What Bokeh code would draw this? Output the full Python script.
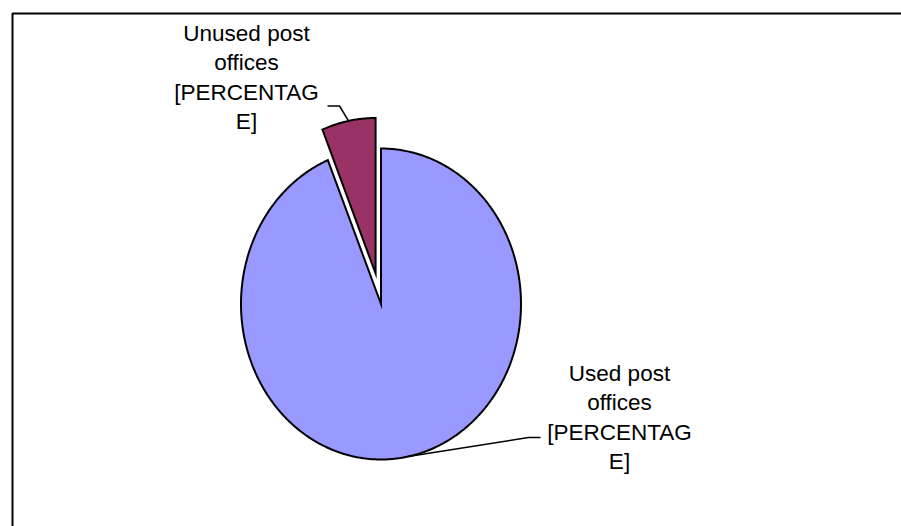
import numpy as np
from bokeh.plotting import figure
from bokeh.models import Range1d
from bokeh.core.properties import value
from bokeh.embed import file_html
from bokeh.resources import INLINE

# ---- data ----
categories = ["Used post offices", "Unused post offices"]
values = [93.8, 6.2]
label_lines = [
    ["Used post", "offices", "[PERCENTAG", "E]"],
    ["Unused post", "offices", "[PERCENTAG", "E]"],
]
colors = ["#9999FF", "#993366"]
explode = [0.0, 0.2]

# ---- layout (image pixel coordinates) ----
W, H = 901, 526
X0, Y0 = 0, 0
cx, cy = 380.5, 303.5
rx, ry = 140.0, 155.5
label_pos = [(619.0, 373.0), (246.0, 33.0)]   # center x, first line middle
line_step = 29.3
font_px = "22.5px"
elbows = [((540.0, 437.0), (528.0, 437.0)), ((327.0, 105.5), (339.0, 105.5))]

p = figure(width=W, height=H, x_range=Range1d(X0, X0 + W), y_range=Range1d(Y0 + H, Y0),
           output_backend="svg", toolbar_location=None, min_border=0,
           x_axis_type=None, y_axis_type=None)
p.grid.visible = False
p.outline_line_color = None
p.background_fill_color = "white"
p.border_fill_color = "white"

# chart area border (left and top edges visible, rest off-canvas)
p.line([12, 12, 920], [540, 13, 13], line_color="black", line_width=2)

total = sum(values)
start = 0.0
for i, v in enumerate(values):
    frac = v / total
    a0 = start * 2 * np.pi
    a1 = (start + frac) * 2 * np.pi
    mid = (a0 + a1) / 2
    ox = cx + explode[i] * rx * np.sin(mid)
    oy = cy - explode[i] * ry * np.cos(mid)
    th = np.linspace(a0, a1, max(int(frac * 720), 8))
    xs = np.concatenate([[ox], ox + rx * np.sin(th), [ox]])
    ys = np.concatenate([[oy], oy - ry * np.cos(th), [oy]])
    p.patch(xs, ys, fill_color=colors[i], line_color="black", line_width=2,
            line_join="miter")
    # leader line from arc midpoint to label elbow
    ex, ey = ox + rx * np.sin(mid), oy - ry * np.cos(mid)
    (lx0, ly0), (lx1, ly1) = elbows[i]
    p.line([lx0, lx1, ex], [ly0, ly1, ey], line_color="black", line_width=1.5)
    # label
    lx, ly = label_pos[i]
    n = len(label_lines[i])
    p.text(x=[lx] * n, y=[ly + k * line_step for k in range(n)], text=label_lines[i],
           text_align="center", text_baseline="middle",
           text_font=value("Liberation Sans"), text_font_size=font_px,
           text_color="black")
    start += frac

open("out.html", "w").write(file_html(p, INLINE))
